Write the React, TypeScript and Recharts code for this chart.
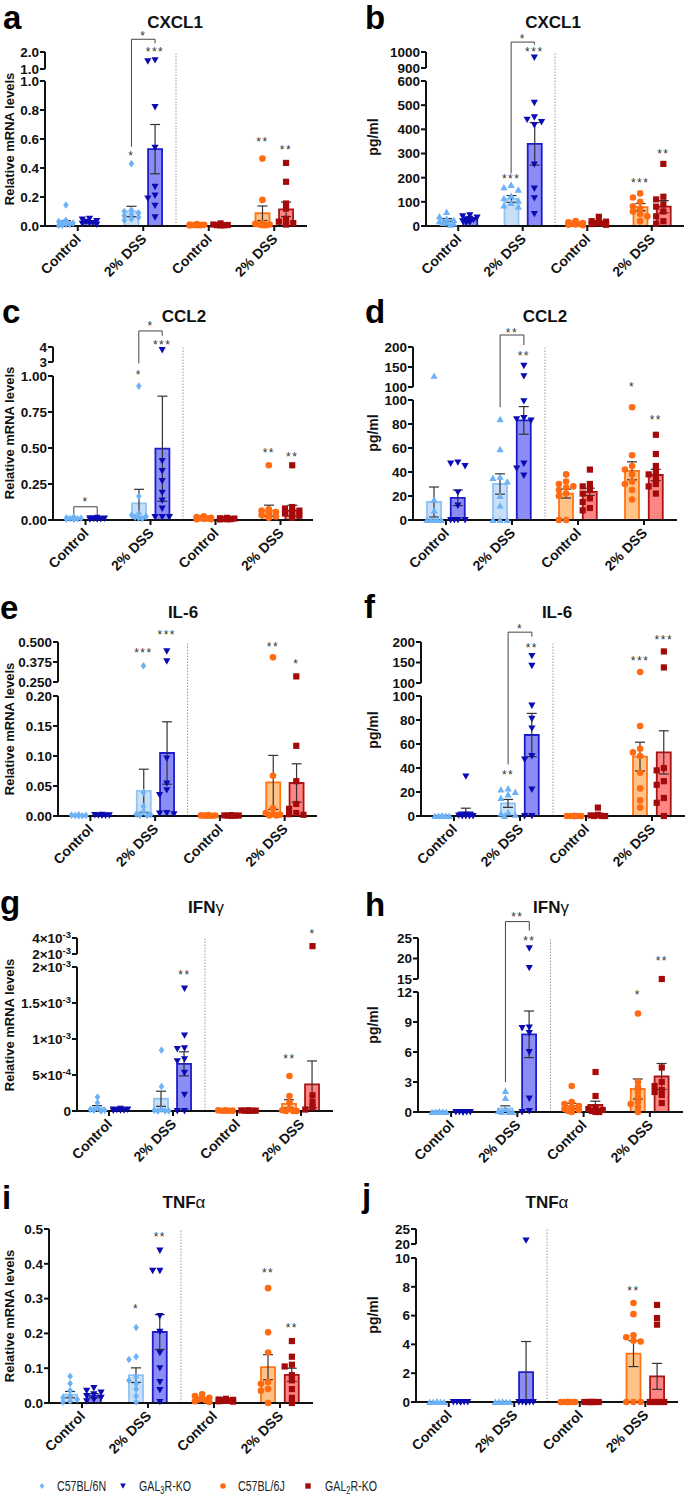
import React from 'react';
import { ComposedChart, Bar, Cell, ErrorBar, Scatter, XAxis, YAxis, ReferenceLine } from 'recharts';

const FONT = '"Liberation Sans", Arial, Helvetica, sans-serif';

// ---------- shared categories ----------
const groupLabels = ['Control', '2% DSS', 'Control', '2% DSS'];
const seriesNames = ['C57BL/6N', 'GAL3R-KO', 'C57BL/6J', 'GAL2R-KO'];
const seriesPoint = ['#6CB2F7', '#0B0BB3', '#FF6A12', '#A50A0A'];
const seriesFill = ['#C9DFF8', '#8C8CF7', '#FFC387', '#FF8585'];
const seriesStroke = ['#92C3F4', '#1E1EC8', '#FF7518', '#A81515'];

type Star = { bar: number; y: number; t: string };
type Bracket = { from: number; to: number; y1: number; top: number; y2: number; t: string; ty: number };

// bar order: [Ctrl 6N, Ctrl GAL3R-KO, DSS 6N, DSS GAL3R-KO, Ctrl 6J, Ctrl GAL2R-KO, DSS 6J, DSS GAL2R-KO]

// ---------- a: CXCL1 mRNA ----------
const aMean = [0.025, 0.025, 0.10, 0.53, 0.008, 0.007, 0.088, 0.115];
const aSem = [0.012, 0.006, 0.036, 0.17, 0.002, 0.002, 0.05, 0.05];
const aPoints = [
  [0.145, 0.04, 0.03, 0.02, 0.02, 0.015, 0.01, 0.005, 0.005],
  [0.05, 0.045, 0.035, 0.03, 0.02, 0.02, 0.015, 0.01],
  [0.43, 0.11, 0.1, 0.09, 0.08, 0.07, 0.06, 0.05, 0.04],
  [1.52, 1.45, 0.82, 0.54, 0.27, 0.21, 0.19, 0.14, 0.06],
  [0.014, 0.01, 0.008, 0.007, 0.006, 0.005, 0.004],
  [0.018, 0.01, 0.007, 0.006, 0.005, 0.004],
  [0.465, 0.18, 0.02, 0.015, 0.01, 0.01, 0.005, 0.005],
  [0.435, 0.305, 0.155, 0.12, 0.05, 0.03, 0.02, 0.01],
];
const aLowerTicks = [0, 0.2, 0.4, 0.6, 0.8, 1.0];
const aLowerLabels = ['0.0', '0.2', '0.4', '0.6', '0.8', '1.0'];
const aUpperTicks = [1.0, 2.0];
const aUpperLabels = ['1.0', '2.0'];
const aStars: Star[] = [
  { bar: 2, y: 0.5, t: '*' }, { bar: 3, y: 2.1, t: '***' }, { bar: 6, y: 0.59, t: '**' }, { bar: 7, y: 0.535, t: '**' },
];
const aBrackets: Bracket[] = [{ from: 2, to: 3, y1: 0.547, top: 2.75, y2: 2.51, t: '*', ty: 3.05 }];

// ---------- b: CXCL1 pg/ml ----------
const bMean = [25, 28, 112, 340, 10, 15, 78, 80];
const bSem = [6, 5, 14, 88, 2.5, 4, 15, 25];
const bPoints = [
  [58, 40, 30, 25, 20, 15, 12, 10, 5],
  [45, 40, 35, 30, 28, 25, 20, 15, 12],
  [170, 160, 150, 125, 115, 105, 95, 85, 80],
  [965, 510, 450, 440, 430, 418, 255, 155, 115, 50],
  [20, 15, 12, 10, 8, 6, 5, 3],
  [38, 20, 18, 15, 12, 10, 8, 5],
  [135, 118, 100, 82, 72, 60, 50, 40, 20],
  [257, 121, 110, 90, 80, 60, 40, 20, 10],
];
const bLowerTicks = [0, 100, 200, 300, 400, 500, 600];
const bLowerLabels = ['0', '100', '200', '300', '400', '500', '600'];
const bUpperTicks = [900, 1000];
const bUpperLabels = ['900', '1000'];
const bStars: Star[] = [
  { bar: 2, y: 204, t: '***' }, { bar: 3, y: 1014, t: '***' }, { bar: 6, y: 188, t: '***' }, { bar: 7, y: 308, t: '**' },
];
const bBrackets: Bracket[] = [{ from: 2, to: 3, y1: 218, top: 1062, y2: 1046, t: '*', ty: 1092 }];

// ---------- c: CCL2 mRNA ----------
const cMean = [0.01, 0.008, 0.116, 0.495, 0.01, 0.007, 0.065, 0.065];
const cSem = [0.003, 0.002, 0.097, 0.365, 0.003, 0.002, 0.038, 0.037];
const cPoints = [
  [0.02, 0.015, 0.012, 0.01, 0.008, 0.006, 0.005],
  [0.015, 0.012, 0.01, 0.008, 0.006, 0.005, 0.004],
  [0.93, 0.165, 0.045, 0.035, 0.025, 0.02, 0.015, 0.01],
  [3.8, 0.41, 0.34, 0.27, 0.19, 0.135, 0.08, 0.02, 0.02, 0.02],
  [0.025, 0.02, 0.015, 0.012, 0.01, 0.008, 0.006, 0.005],
  [0.015, 0.012, 0.01, 0.008, 0.006, 0.005, 0.004],
  [0.38, 0.075, 0.065, 0.055, 0.045, 0.035, 0.025, 0.015],
  [0.38, 0.09, 0.08, 0.065, 0.055, 0.045, 0.03, 0.015],
];
const cLowerTicks = [0, 0.25, 0.5, 0.75, 1.0];
const cLowerLabels = ['0.00', '0.25', '0.50', '0.75', '1.00'];
const cUpperTicks = [3, 4];
const cUpperLabels = ['3', '4'];
const cStars: Star[] = [
  { bar: 2, y: 1.47, t: '*' }, { bar: 3, y: 4.29, t: '***' }, { bar: 6, y: 0.479, t: '**' }, { bar: 7, y: 0.451, t: '**' },
];
const cBrackets: Bracket[] = [
  { from: 0, to: 1, y1: 0.035, top: 0.092, y2: 0.035, t: '*', ty: 0.139 },
  { from: 2, to: 3, y1: 2.81, top: 5.07, y2: 4.75, t: '*', ty: 5.51 },
];

// ---------- d: CCL2 pg/ml ----------
const dMean = [15, 18.5, 30, 83, 22, 23.5, 41, 37.5];
const dSem = [12.5, 6.5, 8.5, 11.5, 3.7, 3, 7.5, 4.7];
const dPoints = [
  [128, 17, 8, 0, 0, 0, 0, 0],
  [48, 47, 45, 23, 12, 0, 0, 0, 0],
  [84, 59, 36, 35, 32, 20, 12, 0, 0, 0],
  [153, 127, 99, 85, 84, 83, 47, 43, 37],
  [38, 32, 30, 28, 27, 25, 22, 20, 0, 0],
  [42, 30, 28, 25, 22, 18, 15, 10, 8],
  [94, 54, 45, 42, 38, 32, 30, 25, 17],
  [71, 55, 45, 40, 38, 35, 30, 28, 22],
];
const dLowerTicks = [0, 20, 40, 60, 80, 100];
const dLowerLabels = ['0', '20', '40', '60', '80', '100'];
const dUpperTicks = [100, 150, 200];
const dUpperLabels = ['100', '150', '200'];
const dStars: Star[] = [{ bar: 3, y: 182, t: '**' }, { bar: 6, y: 105, t: '*' }, { bar: 7, y: 84.7, t: '**' }];
const dBrackets: Bracket[] = [{ from: 2, to: 3, y1: 94, top: 230, y2: 205, t: '**', ty: 241 }];

// ---------- e: IL-6 mRNA ----------
const eMean = [0.0008, 0.001, 0.042, 0.105, 0.0008, 0.0008, 0.056, 0.055];
const eSem = [0.0003, 0.0003, 0.036, 0.052, 0.0002, 0.0002, 0.045, 0.032];
const ePoints = [
  [0.002, 0.0015, 0.001, 0.0008, 0.0005, 0.0003],
  [0.002, 0.0015, 0.0012, 0.001, 0.0008, 0.0005],
  [0.352, 0.039, 0.016, 0.007, 0.003, 0.002, 0.001, 0.001],
  [0.442, 0.379, 0.096, 0.054, 0.043, 0.035, 0.005, 0.004, 0.003],
  [0.0015, 0.001, 0.0008, 0.0006, 0.0005, 0.0003],
  [0.0015, 0.001, 0.0008, 0.0006, 0.0005, 0.0003],
  [0.404, 0.067, 0.013, 0.005, 0.003, 0.002, 0.001, 0.001],
  [0.285, 0.117, 0.058, 0.02, 0.012, 0.005, 0.003, 0.002],
];
const eLowerTicks = [0, 0.05, 0.1, 0.15, 0.2];
const eLowerLabels = ['0.00', '0.05', '0.10', '0.15', '0.20'];
const eUpperTicks = [0.25, 0.375, 0.5];
const eUpperLabels = ['0.250', '0.375', '0.500'];
const eStars: Star[] = [
  { bar: 2, y: 0.446, t: '***' }, { bar: 3, y: 0.554, t: '***' }, { bar: 6, y: 0.481, t: '**' }, { bar: 7, y: 0.373, t: '*' },
];
const eBrackets: Bracket[] = [];

// ---------- f: IL-6 pg/ml ----------
const fMean = [0.3, 3, 10.5, 67.5, 0.3, 1.5, 49.5, 53];
const fSem = [0.2, 3.5, 3.3, 18, 0.2, 0.8, 12, 18];
const fPoints = [
  [0, 0, 0, 0, 0, 0, 0],
  [33, 1, 0.5, 0, 0, 0, 0],
  [23, 22, 20, 18, 15, 3, 2, 1, 0],
  [166, 142, 92, 81, 73, 50, 47, 22, 0, 0],
  [0, 0, 0, 0, 0, 0, 0],
  [7, 1, 0.5, 0, 0, 0],
  [127, 75, 56, 53, 50, 36, 23, 13, 7],
  [177, 138, 40, 38, 29, 26, 15, 11, 0],
];
const fLowerTicks = [0, 20, 40, 60, 80, 100];
const fLowerLabels = ['0', '20', '40', '60', '80', '100'];
const fUpperTicks = [100, 150, 200];
const fUpperLabels = ['100', '150', '200'];
const fStars: Star[] = [
  { bar: 2, y: 36, t: '**' }, { bar: 3, y: 190, t: '**' }, { bar: 6, y: 158.5, t: '***' }, { bar: 7, y: 209, t: '***' },
];
const fBrackets: Bracket[] = [{ from: 2, to: 3, y1: 43, top: 224, y2: 213, t: '*', ty: 237 }];

// ---------- g: IFNγ mRNA ----------
const gMean = [4.5e-5, 2e-5, 1.7e-4, 6.55e-4, 5e-6, 5e-6, 1.0e-4, 3.7e-4];
const gSem = [3e-5, 5e-6, 1.05e-4, 1.67e-4, 2e-6, 2e-6, 5.7e-5, 3.25e-4];
const gPoints = [
  [1.94e-4, 1.16e-4, 4e-5, 2e-5, 1e-5, 1e-5, 0],
  [3e-5, 2e-5, 2e-5, 1.5e-5, 1e-5, 1e-5, 5e-6],
  [8.45e-4, 3.4e-4, 2e-5, 1e-5, 5e-6, 0, 0],
  [1.7e-3, 1.05e-3, 8.7e-4, 8.6e-4, 7.2e-4, 6.9e-4, 5.3e-4, 2.27e-4, 0, 0],
  [1e-5, 8e-6, 5e-6, 4e-6, 3e-6, 2e-6],
  [1e-5, 8e-6, 5e-6, 4e-6, 3e-6, 2e-6],
  [4.86e-4, 2.08e-4, 1.2e-4, 3e-5, 1e-5, 0, 0, 0],
  [2.98e-3, 2.18e-4, 1.25e-4, 5e-5, 2e-5],
];
const gLowerTicks = [0, 5e-4, 1e-3, 1.5e-3, 2e-3];
const gLowerLabels = ['0', '5×10^-4', '1×10^-3', '1.5×10^-3', '2×10^-3'];
const gUpperTicks = [2e-3, 4e-3];
const gUpperLabels = ['2×10^-3', '4×10^-3'];
const gStars: Star[] = [{ bar: 3, y: 1.91e-3, t: '**' }, { bar: 6, y: 7.46e-4, t: '**' }, { bar: 7, y: 4.79e-3, t: '*' }];
const gBrackets: Bracket[] = [];

// ---------- h: IFNγ pg/ml ----------
const hMean = [0.05, 0.05, 0.35, 7.77, 0.6, 0.7, 2.3, 3.55];
const hSem = [0.02, 0.02, 0.27, 2.33, 0.27, 0.38, 1.0, 1.3];
const hPoints = [
  [0, 0, 0, 0, 0, 0, 0],
  [0, 0, 0, 0, 0, 0, 0],
  [2.1, 1.4, 0.3, 0.1, 0, 0, 0],
  [22.5, 17.7, 8.45, 8.4, 7.9, 6.0, 1.35, 0.1, 0],
  [2.6, 1.0, 0.8, 0.6, 0.4, 0.3, 0.2, 0.1, 0],
  [4.0, 1.6, 0.4, 0.3, 0.2, 0.1, 0, 0],
  [9.85, 3.0, 2.5, 2.0, 1.5, 1.0, 0.8, 0.5, 0],
  [15, 4.45, 3.0, 2.6, 2.2, 2.0, 1.7, 0.9],
];
const hLowerTicks = [0, 3, 6, 9, 12];
const hLowerLabels = ['0', '3', '6', '9', '12'];
const hUpperTicks = [15, 20, 25];
const hUpperLabels = ['15', '20', '25'];
const hStars: Star[] = [{ bar: 3, y: 24.8, t: '**' }, { bar: 6, y: 11.9, t: '*' }, { bar: 7, y: 19.8, t: '**' }];
const hBrackets: Bracket[] = [{ from: 2, to: 3, y1: 3.0, top: 29.0, y2: 26.8, t: '**', ty: 30.6 }];

// ---------- i: TNFα mRNA ----------
const iMean = [0.024, 0.021, 0.08, 0.204, 0.01, 0.008, 0.103, 0.081];
const iSem = [0.009, 0.006, 0.021, 0.05, 0.003, 0.001, 0.036, 0.019];
const iPoints = [
  [0.077, 0.056, 0.036, 0.02, 0.015, 0.01, 0.005, 0.003],
  [0.043, 0.035, 0.03, 0.025, 0.02, 0.015, 0.01, 0.005],
  [0.217, 0.133, 0.125, 0.075, 0.065, 0.055, 0.04, 0.02, 0.003],
  [0.438, 0.38, 0.38, 0.25, 0.205, 0.144, 0.1, 0.06, 0.037, 0.003],
  [0.025, 0.02, 0.015, 0.012, 0.01, 0.008, 0.005, 0.003],
  [0.012, 0.01, 0.009, 0.008, 0.007, 0.006, 0.005, 0.004],
  [0.33, 0.203, 0.145, 0.06, 0.055, 0.04, 0.035, 0],
  [0.178, 0.133, 0.11, 0.105, 0.08, 0.065, 0.04, 0.015, 0],
];
const iLowerTicks = [0, 0.1, 0.2, 0.3, 0.4, 0.5];
const iLowerLabels = ['0.0', '0.1', '0.2', '0.3', '0.4', '0.5'];
const iStars: Star[] = [
  { bar: 2, y: 0.277, t: '*' }, { bar: 3, y: 0.483, t: '**' }, { bar: 6, y: 0.379, t: '**' }, { bar: 7, y: 0.222, t: '**' },
];
const iBrackets: Bracket[] = [];

// ---------- j: TNFα pg/ml ----------
const jMean = [0, 0, 0, 2.08, 0, 0, 3.36, 1.78];
const jSem = [0, 0, 0, 2.12, 0, 0, 0.9, 0.9];
const jPoints = [
  [0, 0, 0, 0, 0, 0, 0],
  [0, 0, 0, 0, 0, 0, 0],
  [0, 0, 0, 0, 0, 0, 0],
  [21.2, 0, 0, 0, 0, 0, 0, 0, 0],
  [0, 0, 0, 0, 0, 0, 0],
  [0, 0, 0, 0, 0, 0, 0],
  [6.88, 6.1, 4.63, 4.5, 4.26, 4.2, 0, 0, 0],
  [6.74, 5.83, 5.37, 0, 0, 0, 0, 0],
];
const jLowerTicks = [0, 2, 4, 6, 8, 10];
const jLowerLabels = ['0', '2', '4', '6', '8', '10'];
const jUpperTicks = [20, 25];
const jUpperLabels = ['20', '25'];
const jStars: Star[] = [{ bar: 6, y: 7.83, t: '**' }];
const jBrackets: Bracket[] = [];

// ---------- panel definitions (layout + references to data) ----------
interface PanelDef {
  letter: string; title: string; greek?: string;
  left: number; top: number; axisX: number; zeroY: number; xEnd: number; lowerTopY: number;
  upperBottomY?: number; upperTopY?: number;
  lowerTicks: number[]; lowerLabels: string[]; upperTicks?: number[]; upperLabels?: string[];
  ylabel: string; ylabelSize: number; ylabelX: number; ylabelY: number;
  titleX: number; titleY: number; letterX: number; letterY: number;
  lightShape: 'diamond' | 'triUp';
  mean: number[]; sem: number[]; points: number[][]; stars: Star[]; brackets: Bracket[];
}

const MRNA = 'Relative mRNA levels';
const PG = 'pg/ml';

const panels: PanelDef[] = [
  { letter: 'a', title: 'CXCL1', left: 0, top: 0, axisX: 45, zeroY: 226, xEnd: 307, lowerTopY: 81, upperBottomY: 69, upperTopY: 52,
    lowerTicks: aLowerTicks, lowerLabels: aLowerLabels, upperTicks: aUpperTicks, upperLabels: aUpperLabels,
    ylabel: MRNA, ylabelSize: 13, ylabelX: 13.5, ylabelY: 139, titleX: 175, titleY: 28, letterX: 3, letterY: 28,
    lightShape: 'diamond', mean: aMean, sem: aSem, points: aPoints, stars: aStars, brackets: aBrackets },
  { letter: 'b', title: 'CXCL1', left: 340, top: 0, axisX: 426, zeroY: 226, xEnd: 684, lowerTopY: 81, upperBottomY: 68, upperTopY: 52,
    lowerTicks: bLowerTicks, lowerLabels: bLowerLabels, upperTicks: bUpperTicks, upperLabels: bUpperLabels,
    ylabel: PG, ylabelSize: 14, ylabelX: 378, ylabelY: 137, titleX: 553, titleY: 28, letterX: 365, letterY: 28,
    lightShape: 'triUp', mean: bMean, sem: bSem, points: bPoints, stars: bStars, brackets: bBrackets },
  { letter: 'c', title: 'CCL2', left: 0, top: 290, axisX: 53, zeroY: 520, xEnd: 313, lowerTopY: 376, upperBottomY: 362, upperTopY: 347,
    lowerTicks: cLowerTicks, lowerLabels: cLowerLabels, upperTicks: cUpperTicks, upperLabels: cUpperLabels,
    ylabel: MRNA, ylabelSize: 13, ylabelX: 13.5, ylabelY: 433, titleX: 184, titleY: 322, letterX: 2, letterY: 322,
    lightShape: 'diamond', mean: cMean, sem: cSem, points: cPoints, stars: cStars, brackets: cBrackets },
  { letter: 'd', title: 'CCL2', left: 340, top: 290, axisX: 413, zeroY: 520, xEnd: 677, lowerTopY: 400, upperBottomY: 387, upperTopY: 347,
    lowerTicks: dLowerTicks, lowerLabels: dLowerLabels, upperTicks: dUpperTicks, upperLabels: dUpperLabels,
    ylabel: PG, ylabelSize: 14, ylabelX: 378, ylabelY: 433, titleX: 545, titleY: 322, letterX: 365, letterY: 322,
    lightShape: 'triUp', mean: dMean, sem: dSem, points: dPoints, stars: dStars, brackets: dBrackets },
  { letter: 'e', title: 'IL-6', left: 0, top: 580, axisX: 58, zeroY: 816, xEnd: 317, lowerTopY: 696, upperBottomY: 682, upperTopY: 642,
    lowerTicks: eLowerTicks, lowerLabels: eLowerLabels, upperTicks: eUpperTicks, upperLabels: eUpperLabels,
    ylabel: MRNA, ylabelSize: 13, ylabelX: 13.5, ylabelY: 729, titleX: 183, titleY: 618, letterX: 0, letterY: 618,
    lightShape: 'diamond', mean: eMean, sem: eSem, points: ePoints, stars: eStars, brackets: eBrackets },
  { letter: 'f', title: 'IL-6', left: 340, top: 580, axisX: 421, zeroY: 816, xEnd: 685, lowerTopY: 696, upperBottomY: 683, upperTopY: 642,
    lowerTicks: fLowerTicks, lowerLabels: fLowerLabels, upperTicks: fUpperTicks, upperLabels: fUpperLabels,
    ylabel: PG, ylabelSize: 14, ylabelX: 378, ylabelY: 730, titleX: 557, titleY: 618, letterX: 364, letterY: 617,
    lightShape: 'triUp', mean: fMean, sem: fSem, points: fPoints, stars: fStars, brackets: fBrackets },
  { letter: 'g', title: 'IFN', greek: 'γ', left: 0, top: 870, axisX: 77, zeroY: 1111, xEnd: 333, lowerTopY: 967, upperBottomY: 954, upperTopY: 938,
    lowerTicks: gLowerTicks, lowerLabels: gLowerLabels, upperTicks: gUpperTicks, upperLabels: gUpperLabels,
    ylabel: MRNA, ylabelSize: 13, ylabelX: 13.5, ylabelY: 1025, titleX: 206, titleY: 913, letterX: 0, letterY: 913,
    lightShape: 'diamond', mean: gMean, sem: gSem, points: gPoints, stars: gStars, brackets: gBrackets },
  { letter: 'h', title: 'IFN', greek: 'γ', left: 340, top: 870, axisX: 418, zeroY: 1112, xEnd: 683, lowerTopY: 992, upperBottomY: 979, upperTopY: 938,
    lowerTicks: hLowerTicks, lowerLabels: hLowerLabels, upperTicks: hUpperTicks, upperLabels: hUpperLabels,
    ylabel: PG, ylabelSize: 14, ylabelX: 378, ylabelY: 1025, titleX: 551, titleY: 913, letterX: 365, letterY: 915,
    lightShape: 'triUp', mean: hMean, sem: hSem, points: hPoints, stars: hStars, brackets: hBrackets },
  { letter: 'i', title: 'TNF', greek: 'α', left: 0, top: 1160, axisX: 49, zeroY: 1403, xEnd: 313, lowerTopY: 1229,
    lowerTicks: iLowerTicks, lowerLabels: iLowerLabels,
    ylabel: MRNA, ylabelSize: 13, ylabelX: 13.5, ylabelY: 1316, titleX: 184, titleY: 1208, letterX: 2, letterY: 1208,
    lightShape: 'diamond', mean: iMean, sem: iSem, points: iPoints, stars: iStars, brackets: iBrackets },
  { letter: 'j', title: 'TNF', greek: 'α', left: 340, top: 1160, axisX: 416, zeroY: 1402, xEnd: 678, lowerTopY: 1258, upperBottomY: 1244, upperTopY: 1229,
    lowerTicks: jLowerTicks, lowerLabels: jLowerLabels, upperTicks: jUpperTicks, upperLabels: jUpperLabels,
    ylabel: PG, ylabelSize: 14, ylabelX: 378, ylabelY: 1315, titleX: 547, titleY: 1208, letterX: 362, letterY: 1206,
    lightShape: 'triUp', mean: jMean, sem: jSem, points: jPoints, stars: jStars, brackets: jBrackets },
];

// ---------- helpers ----------
function makeScale(p: PanelDef) {
  const lowerMax = p.lowerTicks[p.lowerTicks.length - 1];
  const lowerPx = p.zeroY - p.lowerTopY;
  if (!p.upperTicks) return (v: number) => (v / lowerMax) * lowerPx;
  const uMin = p.upperTicks[0];
  const uMax = p.upperTicks[p.upperTicks.length - 1];
  const uBot = p.zeroY - (p.upperBottomY as number);
  const uTop = p.zeroY - (p.upperTopY as number);
  return (v: number) => {
    if (v <= lowerMax) return (v / lowerMax) * lowerPx;
    if (v < uMin) return lowerPx + ((v - lowerMax) / (uMin - lowerMax)) * (uBot - lowerPx);
    return uBot + ((v - uMin) / (uMax - uMin)) * (uTop - uBot);
  };
}

function swarm(vals: number[], f: (v: number) => number): number[] {
  const step = 3.6;
  const thr = 5;
  const placed: { dx: number; py: number }[] = [];
  const cands = [0, -1, 1, -2, 2];
  return vals.map((v) => {
    const py = f(v);
    let best = 0;
    let bestD = -1;
    for (const k of cands) {
      const dx = k * step;
      let minD = Infinity;
      for (const q of placed) {
        const d = Math.max(Math.abs(q.dx - dx), Math.abs(q.py - py));
        if (d < minD) minD = d;
      }
      if (minD >= thr) { best = dx; bestD = Infinity; break; }
      if (minD > bestD) { bestD = minD; best = dx; }
    }
    placed.push({ dx: best, py });
    return best;
  });
}

function marker(shape: string, cx: number, cy: number, color: string) {
  if (cx == null || cy == null || isNaN(cx) || isNaN(cy)) return <g />;
  switch (shape) {
    case 'diamond':
      return <polygon points={`${cx},${cy - 3.8} ${cx + 2.8},${cy} ${cx},${cy + 3.8} ${cx - 2.8},${cy}`} fill={color} />;
    case 'triUp':
      return <polygon points={`${cx - 3.6},${cy + 3} ${cx + 3.6},${cy + 3} ${cx},${cy - 3.4}`} fill={color} />;
    case 'triDown':
      return <polygon points={`${cx - 3.6},${cy - 3} ${cx + 3.6},${cy - 3} ${cx},${cy + 3.4}`} fill={color} />;
    case 'circle':
      return <circle cx={cx} cy={cy} r={3.3} fill={color} />;
    default:
      return <rect x={cx - 3.1} y={cy - 3.1} width={6.2} height={6.2} fill={color} />;
  }
}

function renderLabel(label: string, x: number, y: number) {
  const parts = label.split('^');
  return (
    <text x={x} y={y} dy="0.36em" textAnchor="end" fontSize={13.5} fontWeight="bold" fill="#111" fontFamily={FONT}>
      {parts[0]}
      {parts[1] ? <tspan dy={-5} fontSize={9.5}>{parts[1]}</tspan> : null}
    </text>
  );
}

const BAR_SIZE = 14;

function Panel({ p }: { p: PanelDef }) {
  const f = makeScale(p);
  const marginTop = 30;
  const plotH = p.zeroY - p.top - marginTop;
  const W = p.xEnd - p.left + 2;
  const H = p.zeroY - p.top + 60;
  const groupPx = (p.xEnd - p.axisX) / 4;
  const OFF = 0.18;
  const barX = (i: number) => Math.floor(i / 2) + 0.5 + (i % 2 === 0 ? -OFF : OFF);
  const seriesOf = (i: number) => (i < 4 ? i % 2 : 2 + (i % 2));
  const shapes = [p.lightShape, 'triDown', 'circle', 'square'];
  const barGap = 2 * OFF * groupPx - BAR_SIZE;

  // one row per group: left bar and right bar
  const groupRows = groupLabels.map((g, k) => ({
    g: `${k}`,
    m1: p.mean[2 * k], s1: p.sem[2 * k], ser1: seriesOf(2 * k),
    m2: p.mean[2 * k + 1], s2: p.sem[2 * k + 1], ser2: seriesOf(2 * k + 1),
  }));
  const errFn = (mk: string, sk: string) => (d: any) => {
    const m = d[mk];
    const s = d[sk];
    const lo = Math.max(0, m - s);
    return [f(m) - f(lo), f(m + s) - f(m)];
  };

  const seriesPts: { x: number; y: number }[][] = [[], [], [], []];
  p.points.forEach((vals, i) => {
    const offs = swarm(vals, f);
    vals.forEach((v, j) => seriesPts[seriesOf(i)].push({ x: barX(i) + offs[j] / groupPx, y: f(v) }));
  });
  const starData = p.stars.map((s) => ({ x: barX(s.bar), y: f(s.y), t: s.t }));
  p.brackets.forEach((b) => starData.push({ x: (barX(b.from) + barX(b.to)) / 2, y: f(b.ty), t: b.t }));

  const tickPos: number[] = [];
  const tickLab: string[] = [];
  p.lowerTicks.forEach((t, k) => { tickPos.push(f(t)); tickLab.push(p.lowerLabels[k]); });
  const uBotPx = p.upperBottomY != null ? p.zeroY - p.upperBottomY : 0;
  const uTopPx = p.upperTopY != null ? p.zeroY - p.upperTopY : 0;
  if (p.upperTicks && p.upperLabels) {
    const uMin = p.upperTicks[0];
    const uMax = p.upperTicks[p.upperTicks.length - 1];
    p.upperTicks.forEach((t, k) => {
      tickPos.push(uBotPx + ((t - uMin) / (uMax - uMin)) * (uTopPx - uBotPx));
      tickLab.push(p.upperLabels![k]);
    });
  }
  const lowerPx = p.zeroY - p.lowerTopY;
  const topVal = p.upperTicks ? p.upperTicks[p.upperTicks.length - 1] : p.lowerTicks[p.lowerTicks.length - 1];

  const YTick = (props: any) => {
    const { x, y, payload } = props;
    let idx = 0;
    let bd = Infinity;
    tickPos.forEach((tp, k) => { const d = Math.abs(tp - payload.value); if (d < bd) { bd = d; idx = k; } });
    return renderLabel(tickLab[idx], x, y);
  };
  const XTick = (props: any) => {
    const { x, y, payload } = props;
    const idx = Math.floor(payload.value);
    const ax = x + 4;
    const ay = y + 9;
    return (
      <text x={ax} y={ay} textAnchor="end" transform={`rotate(-45 ${ax} ${ay})`} fontSize={14} fontWeight="bold" fill="#111" fontFamily={FONT}>
        {groupLabels[idx]}
      </text>
    );
  };

  const axisStroke = { stroke: '#111', strokeWidth: 2 };
  const NUM = 'num';
  const CAT = 'cat';

  return (
    <div style={{ position: 'absolute', left: p.left, top: p.top }}>
      <ComposedChart width={W} height={H} data={groupRows} barGap={barGap}
        margin={{ top: marginTop, right: 2, bottom: 5, left: 0 }}>
        <XAxis xAxisId={NUM} type="number" dataKey="x" domain={[0, 4]} ticks={[0.5, 1.5, 2.5, 3.5]} interval={0}
          axisLine={axisStroke} tickLine={axisStroke} tickSize={5} tickMargin={0} height={55} tick={XTick} />
        <XAxis xAxisId={CAT} type="category" dataKey="g" orientation="top" height={0} hide />
        <YAxis type="number" domain={[0, plotH]} ticks={tickPos} interval={0} width={p.axisX - p.left}
          axisLine={false} tickLine={axisStroke} tickSize={5} tickMargin={1} tick={YTick} />
        <ReferenceLine xAxisId={NUM} segment={[{ x: 0, y: 0 }, { x: 0, y: lowerPx }]} stroke="#111" strokeWidth={2} ifOverflow="visible" />
        {p.upperTicks ? (
          <ReferenceLine xAxisId={NUM} segment={[{ x: 0, y: uBotPx }, { x: 0, y: uTopPx }]} stroke="#111" strokeWidth={2} ifOverflow="visible" />
        ) : null}
        <ReferenceLine xAxisId={NUM} segment={[{ x: 2, y: 0 }, { x: 2, y: f(topVal) }]} stroke="#9a9a9a" strokeWidth={1} strokeDasharray="1.5 1.5" ifOverflow="visible" />
        {p.brackets.map((b, k) => [
          <ReferenceLine key={`bl${k}`} xAxisId={NUM} segment={[{ x: barX(b.from), y: f(b.y1) }, { x: barX(b.from), y: f(b.top) }]} stroke="#444" strokeWidth={1} ifOverflow="visible" />,
          <ReferenceLine key={`bt${k}`} xAxisId={NUM} segment={[{ x: barX(b.from), y: f(b.top) }, { x: barX(b.to), y: f(b.top) }]} stroke="#444" strokeWidth={1} ifOverflow="visible" />,
          <ReferenceLine key={`br${k}`} xAxisId={NUM} segment={[{ x: barX(b.to), y: f(b.top) }, { x: barX(b.to), y: f(b.y2) }]} stroke="#444" strokeWidth={1} ifOverflow="visible" />,
        ])}
        <Bar xAxisId={CAT} dataKey={(d: any) => f(d.m1)} barSize={BAR_SIZE} isAnimationActive={false}>
          {groupRows.map((d, k) => (
            <Cell key={k} fill={seriesFill[d.ser1]} stroke={seriesStroke[d.ser1]} strokeWidth={1.8} />
          ))}
          <ErrorBar dataKey={errFn('m1', 's1')} width={5} stroke="#333" strokeWidth={1.2} direction="y" isAnimationActive={false} />
        </Bar>
        <Bar xAxisId={CAT} dataKey={(d: any) => f(d.m2)} barSize={BAR_SIZE} isAnimationActive={false}>
          {groupRows.map((d, k) => (
            <Cell key={k} fill={seriesFill[d.ser2]} stroke={seriesStroke[d.ser2]} strokeWidth={1.8} />
          ))}
          <ErrorBar dataKey={errFn('m2', 's2')} width={5} stroke="#333" strokeWidth={1.2} direction="y" isAnimationActive={false} />
        </Bar>
        {seriesPts.map((pts, s) => (
          <Scatter key={s} xAxisId={NUM} data={pts} dataKey="y" isAnimationActive={false}
            shape={(props: any) => marker(shapes[s], props.cx, props.cy, seriesPoint[s])} />
        ))}
        <Scatter xAxisId={NUM} data={starData} dataKey="y" isAnimationActive={false}
          shape={(props: any) => (
            <text x={props.cx} y={props.cy + 6} textAnchor="middle" fontSize={12} fill="#333" letterSpacing={1.5} fontFamily={FONT}>
              {props.payload ? props.payload.t : ''}
            </text>
          )} />
      </ComposedChart>
    </div>
  );
}

function LegendBlock() {
  const symX = [42, 123, 223, 308];
  const textX = [57, 139, 238, 325];
  const cy = 1486;
  return (
    <g>
      {seriesNames.map((name, k) => {
        const m = name.match(/^(GAL)(\d)(R-KO)$/);
        return (
          <g key={name}>
            {k === 0 ? <polygon points={`${symX[k]},${cy - 3} ${symX[k] + 2.2},${cy} ${symX[k]},${cy + 3} ${symX[k] - 2.2},${cy}`} fill={seriesPoint[k]} /> : null}
            {k === 1 ? <polygon points={`${symX[k] - 2.8},${cy - 2.4} ${symX[k] + 2.8},${cy - 2.4} ${symX[k]},${cy + 2.8}`} fill={seriesPoint[k]} /> : null}
            {k === 2 ? <circle cx={symX[k]} cy={cy} r={2.8} fill={seriesPoint[k]} /> : null}
            {k === 3 ? <rect x={symX[k] - 2.7} y={cy - 2.7} width={5.4} height={5.4} fill={seriesPoint[k]} /> : null}
            <g transform={`translate(${textX[k]},${cy + 5}) scale(0.71,1)`}>
              <text x={0} y={0} fontSize={15} fill="#222" fontFamily={FONT}>
                {m ? (
                  <>
                    {m[1]}
                    <tspan fontSize={10.5} dy={2.5}>{m[2]}</tspan>
                    <tspan dy={-2.5}>{m[3]}</tspan>
                  </>
                ) : name}
              </text>
            </g>
          </g>
        );
      })}
    </g>
  );
}

export default function App() {
  return (
    <div style={{ position: 'absolute', left: 0, top: 0, width: 685, height: 1495, background: '#fff', overflow: 'hidden', fontFamily: FONT }}>
      <svg width={685} height={1495} style={{ position: 'absolute', left: 0, top: 0 }}>
        {panels.map((p) => (
          <g key={p.letter}>
            <text x={p.letterX} y={p.letterY + 1} fontSize={33} fontWeight="bold" fill="#000" fontFamily={FONT}>{p.letter}</text>
            <text x={p.titleX} y={p.titleY} textAnchor="middle" fontSize={17} fontWeight="bold" fill="#111" fontFamily={FONT}>
              {p.title}
              {p.greek ? <tspan fontWeight="normal">{p.greek}</tspan> : null}
            </text>
            <text transform={`translate(${p.ylabelX},${p.ylabelY}) rotate(-90)`} textAnchor="middle" fontSize={p.ylabelSize} fontWeight="bold" fill="#111" fontFamily={FONT}>
              {p.ylabel}
            </text>
          </g>
        ))}
        <LegendBlock />
      </svg>
      {panels.map((p) => (
        <Panel key={p.letter} p={p} />
      ))}
    </div>
  );
}
